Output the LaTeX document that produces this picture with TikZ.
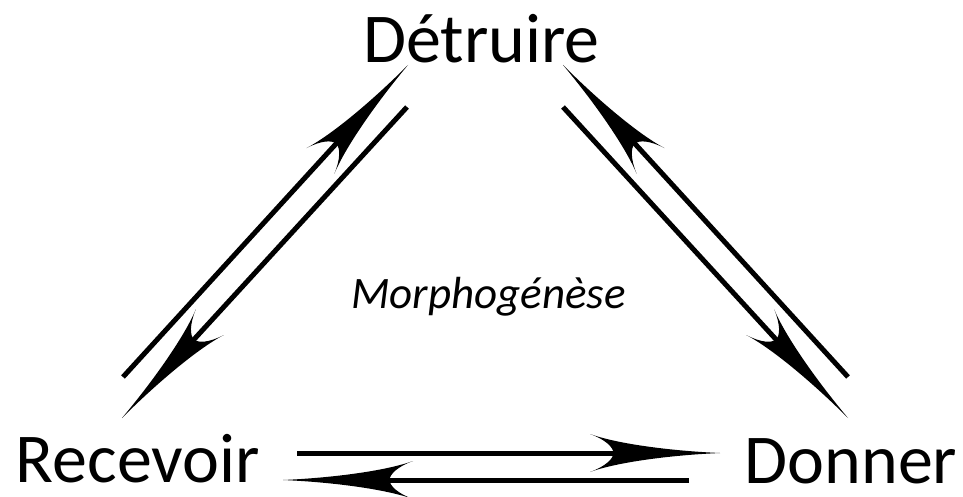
\documentclass[tikz,border=0pt]{standalone}
\usepackage{fontspec}
\setmainfont{Carlito}
\usetikzlibrary{arrows.meta}

% long barbed arrow tip
\newdimen\epinedim
\pgfdeclarearrow{
  name = Epine,
  parameters = {\the\pgfarrowlength,\the\pgfarrowwidth},
  setup code = {
    \pgfarrowssettipend{0pt}
    \pgfarrowssetbackend{-\pgfarrowlength}
    \epinedim=-.75\pgfarrowlength
    \pgfarrowssetlineend{\epinedim}
    \pgfarrowssavethe\pgfarrowlength
    \pgfarrowssavethe\pgfarrowwidth
  },
  drawing code = {
    \pgfpathmoveto{\pgfqpoint{0pt}{0pt}}
    \pgfpathcurveto{\pgfqpoint{-.4\pgfarrowlength}{.06\pgfarrowwidth}}{\pgfqpoint{-.8\pgfarrowlength}{.25\pgfarrowwidth}}{\pgfqpoint{-\pgfarrowlength}{.5\pgfarrowwidth}}
    \pgfpathcurveto{\pgfqpoint{-.88\pgfarrowlength}{.35\pgfarrowwidth}}{\pgfqpoint{-.82\pgfarrowlength}{.15\pgfarrowwidth}}{\pgfqpoint{-.82\pgfarrowlength}{0pt}}
    \pgfpathcurveto{\pgfqpoint{-.82\pgfarrowlength}{-.15\pgfarrowwidth}}{\pgfqpoint{-.88\pgfarrowlength}{-.35\pgfarrowwidth}}{\pgfqpoint{-\pgfarrowlength}{-.5\pgfarrowwidth}}
    \pgfpathcurveto{\pgfqpoint{-.8\pgfarrowlength}{-.25\pgfarrowwidth}}{\pgfqpoint{-.4\pgfarrowlength}{-.06\pgfarrowwidth}}{\pgfqpoint{0pt}{0pt}}
    \pgfpathclose
    \pgfusepathqfill
  },
  defaults = {length=130pt,width=38pt}
}

\begin{document}
\begin{tikzpicture}[x=1pt,y=-1pt,
  mot/.style={inner sep=0pt,anchor=base,font=\fontsize{70}{84}\selectfont},
  titre/.style={inner sep=0pt,anchor=base,font=\fontsize{45}{54}\selectfont\itshape},
  fleche/.style={line width=5pt,-{Epine}}]
\useasboundingbox (0,0) rectangle (963,497);
\node[mot] (detruire) at (481.5,63) {Détruire};
\node[mot] (recevoir) at (138,482) {Recevoir};
\node[mot] (donner) at (851,483) {Donner};
\node[titre] (morpho) at (488.5,308) {Morphogénèse};
% ends of the arrows
\coordinate (rd-a) at (123,377);
\coordinate (rd-b) at (408,65);
\coordinate (dr-a) at (407,107);
\coordinate (dr-b) at (122,418);
\coordinate (nd-a) at (848,377);
\coordinate (nd-b) at (563,65);
\coordinate (dn-a) at (563,107);
\coordinate (dn-b) at (848,418);
\coordinate (rn-a) at (297,453);
\coordinate (rn-b) at (720,453);
\coordinate (nr-a) at (689,480);
\coordinate (nr-b) at (283,480);
\draw[fleche] (rd-a) -- (rd-b);
\draw[fleche] (dr-a) -- (dr-b);
\draw[fleche] (nd-a) -- (nd-b);
\draw[fleche] (dn-a) -- (dn-b);
\draw[fleche] (rn-a) -- (rn-b);
\draw[fleche] (nr-a) -- (nr-b);
\end{tikzpicture}
\end{document}
